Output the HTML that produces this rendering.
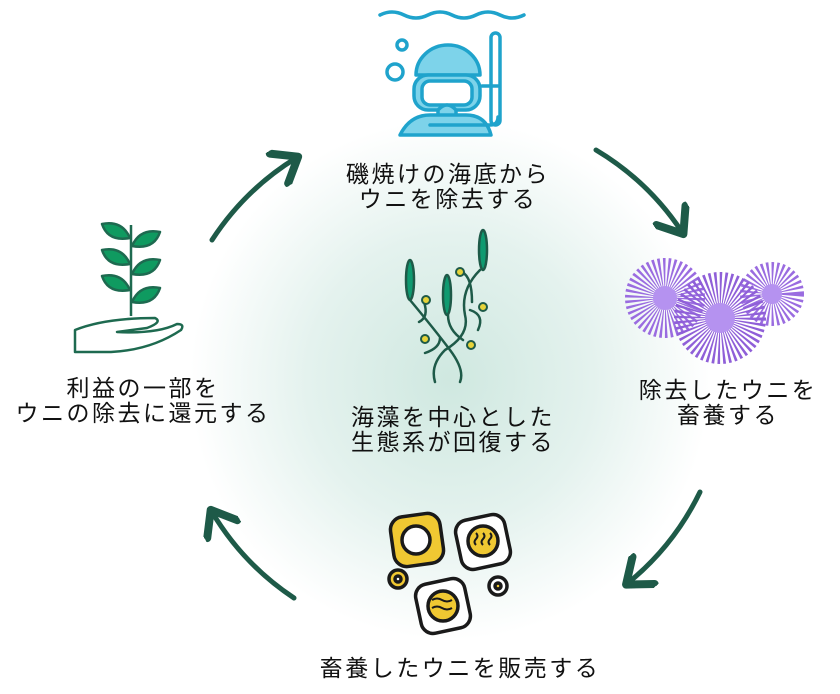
<!DOCTYPE html>
<html><head><meta charset="utf-8"><style>
body{margin:0;width:840px;height:694px;overflow:hidden;background:#fff;font-family:"Liberation Sans","Noto Sans CJK JP",sans-serif;}
.t{position:absolute;font-size:23px;letter-spacing:2.5px;color:#111;text-align:center;line-height:25px;white-space:nowrap;transform:translateX(-50%);}
</style></head><body>
<svg width="840" height="694" style="position:absolute;left:0;top:0">
<defs>
<radialGradient id="bg" cx="450" cy="380" r="260" gradientUnits="userSpaceOnUse">
<stop offset="0" stop-color="#cfe8e0"/><stop offset="0.55" stop-color="#e4f2ee"/><stop offset="1" stop-color="#fff"/>
</radialGradient>
<marker id="ah" markerWidth="8" markerHeight="8" refX="5" refY="4" orient="auto" markerUnits="strokeWidth">
<path d="M1,0.5 L5.5,4 L1,7.5" fill="none" stroke="#1e5a48" stroke-width="1.6" stroke-linejoin="round" stroke-linecap="round"/>
</marker>
</defs>
<rect width="840" height="694" fill="url(#bg)"/>
<g fill="none" stroke="#1e5a48" stroke-width="5" stroke-linecap="round">
<path d="M212,240 A268,268 0 0 1 296,158" marker-end="url(#ah)"/>
<path d="M596,150 A268,268 0 0 1 682,232" marker-end="url(#ah)"/>
<path d="M700,492 A268,268 0 0 1 628,583" marker-end="url(#ah)"/>
<path d="M294,598 A268,268 0 0 1 212,512" marker-end="url(#ah)"/>
</g>
<!-- diver -->
<g stroke="#1fa3cc" stroke-width="3.5" fill="none" stroke-linecap="round" stroke-linejoin="round">
<path d="M380,15 q12,-6 24,0 t24,0 t24,0 t24,0 t24,0 t24,0"/>
<circle cx="402" cy="45" r="5"/><circle cx="395" cy="72" r="8"/>
<path d="M416,75 a32,30 0 0 1 64,0 z" fill="#7dd3ea"/>
<rect x="414" y="75" width="66" height="35" rx="14" fill="#7dd3ea"/>
<rect x="422" y="81" width="50" height="24" rx="8" fill="#fff"/>
<path d="M438,110 q9,-10 18,0 v6 h-18z" fill="#7dd3ea"/>
<path d="M400,135 q10,-20 30,-20 h36 q20,0 25,20 z" fill="#7dd3ea"/>
<rect x="491" y="33" width="9" height="92" rx="4.5" fill="#fff"/>
<path d="M482,86 h16" /><path d="M430,125 h60 q8,0 8,-8"/>
</g>
<!-- plant -->
<g stroke="#1e6a50" stroke-width="2.5" fill="#0f9a60" stroke-linejoin="round">
<line x1="131" y1="225" x2="131" y2="316" fill="none"/>
<path d="M130,238 q-8,-18 -28,-14 q6,18 28,14z"/><path d="M132,246 q8,-18 28,-14 q-6,18 -28,14z"/>
<path d="M130,264 q-8,-18 -28,-14 q6,18 28,14z"/><path d="M132,274 q8,-18 28,-14 q-6,18 -28,14z"/>
<path d="M130,290 q-8,-18 -28,-14 q6,18 28,14z"/><path d="M132,302 q8,-18 28,-14 q-6,18 -28,14z"/>
<path d="M75,330 q30,-12 80,-12 q8,4 -8,10 l-30,4 q40,2 60,-8 q8,0 4,6 q-30,20 -70,22 h-36z" fill="none"/>
</g>
<!-- seaweed -->
<g stroke="#1e5a48" stroke-width="2.5" fill="none" stroke-linecap="round">
<path d="M410,300 q25,30 40,50 q15,20 10,32"/><path d="M480,270 q-20,20 -15,45 q5,20 -20,35 q-15,15 -10,32"/>
<path d="M448,315 q0,15 15,25"/><path d="M424,302 q5,15 -5,20"/><path d="M462,272 q10,5 10,30"/><path d="M470,310 q15,5 8,20"/>
<path d="M440,338 q0,10 -15,15"/>
<g fill="#0f9a70"><ellipse cx="410" cy="280" rx="4" ry="20"/><ellipse cx="447" cy="295" rx="4" ry="20"/><ellipse cx="483" cy="250" rx="4" ry="20"/></g>
<g fill="#e6d33a" stroke-width="2"><circle cx="426" cy="300" r="4"/><circle cx="460" cy="272" r="4"/><circle cx="483" cy="307" r="4"/><circle cx="425" cy="339" r="4"/><circle cx="471" cy="345" r="4"/></g>
</g>
<!-- urchins -->
<g fill="none" stroke-dasharray="1.4 1.6">
<circle cx="665" cy="298" r="20" stroke-width="40" stroke="#9a6ce0"/>
<circle cx="772" cy="294" r="16" stroke-width="32" stroke="#9a6ce0"/>
<circle cx="720" cy="318" r="23" stroke-width="46" stroke="#8f5fd8"/>
</g>
<g fill="#b592f0"><circle cx="665" cy="298" r="12"/><circle cx="772" cy="294" r="10"/><circle cx="720" cy="318" r="15"/></g>
<!-- sushi -->
<g stroke="#1a1a1a" stroke-width="3.5" stroke-linejoin="round">
<rect x="392" y="515" width="50" height="50" rx="13" fill="#f0c832" transform="rotate(-8 417 540)"/>
<circle cx="416" cy="540" r="14" fill="#fff"/>
<rect x="458" y="517" width="50" height="50" rx="12" fill="#fff" transform="rotate(-12 483 542)"/>
<circle cx="483" cy="541" r="15" fill="#f0c832"/>
<rect x="418" y="581" width="50" height="50" rx="12" fill="#fff" transform="rotate(-12 443 606)"/>
<circle cx="443" cy="606" r="15" fill="#f0c832"/>
<circle cx="398" cy="579" r="9" fill="#f0c832"/><circle cx="398" cy="579" r="3" fill="#fff"/>
<circle cx="498" cy="586" r="9" fill="#fff"/><circle cx="498" cy="586" r="3" fill="#f0c832"/>
<path d="M476,533 q3,3 0,6 q-3,3 0,6 M483,533 q3,3 0,6 q-3,3 0,6 M490,533 q3,3 0,6 q-3,3 0,6" fill="none" stroke-width="2"/>
<path d="M432,600 q5,-3 10,0 q5,3 10,0 M432,608 q5,-3 10,0 q5,3 10,0" fill="none" stroke-width="2"/>
</g>
</svg>
<div class="t" style="left:448px;top:162px">磯焼けの海底から<br>ウニを除去する</div>
<div class="t" style="left:728px;top:378px">除去したウニを<br>畜養する</div>
<div class="t" style="left:453px;top:405px">海藻を中心とした<br>生態系が回復する</div>
<div class="t" style="left:143px;top:376px">利益の一部を<br>ウニの除去に還元する</div>
<div class="t" style="left:460px;top:656px">畜養したウニを販売する</div>
</body></html>
